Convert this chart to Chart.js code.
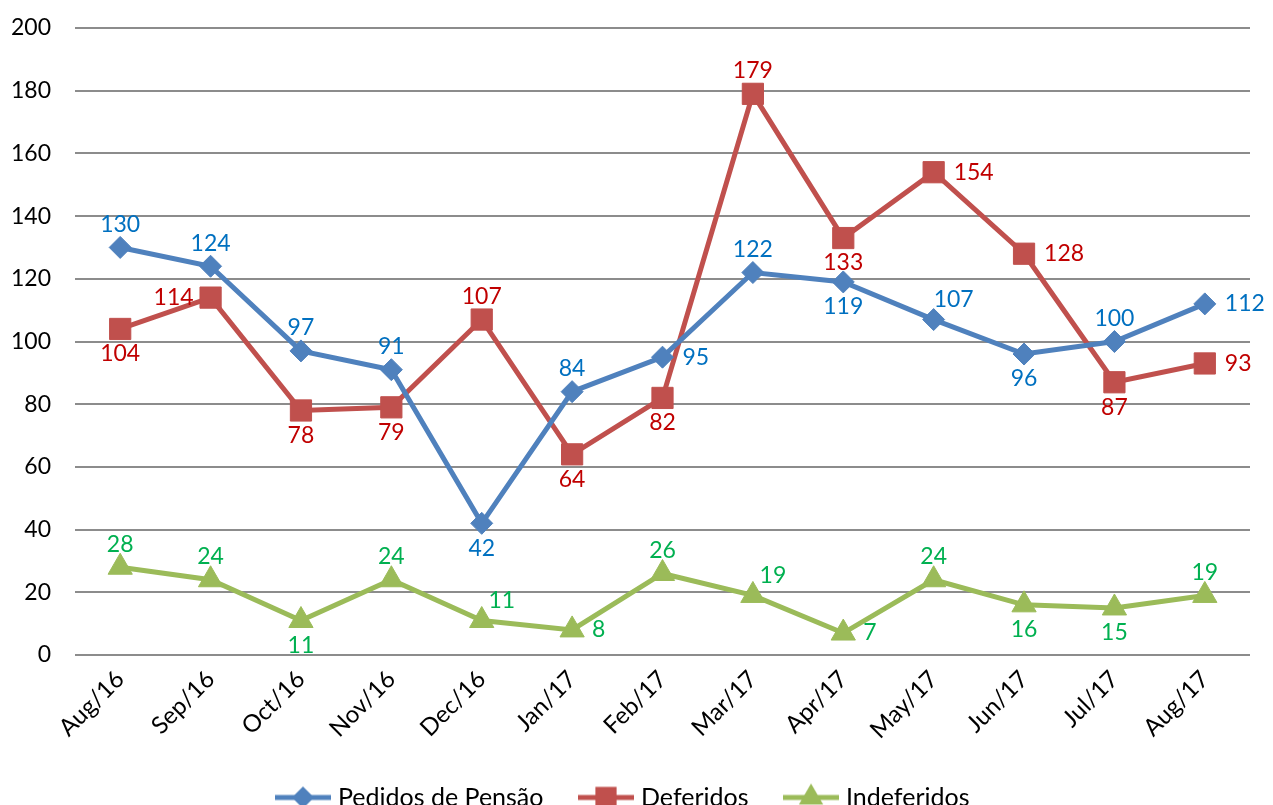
<!DOCTYPE html>
<html>
<head>
<meta charset="utf-8">
<script src="https://cdn.jsdelivr.net/npm/chart.js@4"></script>
<style>
  html, body { margin: 0; padding: 0; background: #fff; }
  #wrap { width: 1273px; height: 805px; }
</style>
</head>
<body>
<div id="wrap"><canvas id="chart" width="1273" height="805"></canvas></div>
<script>
"use strict";

const months = ["Aug/16", "Sep/16", "Oct/16", "Nov/16", "Dec/16", "Jan/17", "Feb/17",
  "Mar/17", "Apr/17", "May/17", "Jun/17", "Jul/17", "Aug/17"];
const pedidos = [130, 124, 97, 91, 42, 84, 95, 122, 119, 107, 96, 100, 112];
const deferidos = [104, 114, 78, 79, 107, 64, 82, 179, 133, 154, 128, 87, 93];
const indeferidos = [28, 24, 11, 24, 11, 8, 26, 19, 7, 24, 16, 15, 19];

// where each value label sits: a = above, b = below, r = right, l = left, ar = above right
const pedidosPos = ["a", "a", "a", "a", "b", "a", "r", "a", "b", "ar", "b", "a", "r"];
const deferidosPos = ["b", "l", "b", "b", "a", "b", "b", "a", "b", "r", "r", "b", "r"];
const indeferidosPos = ["a", "a", "b", "a", "ar", "r", "a", "ar", "r", "a", "b", "b", "a"];

const FONT = "Lato";

function legendIcon(color, style, radius) {
  const c = document.createElement("canvas");
  c.width = 56;
  c.height = 30;
  const g = c.getContext("2d");
  g.strokeStyle = color;
  g.fillStyle = color;
  g.lineWidth = 5;
  g.beginPath();
  g.moveTo(0, 15);
  g.lineTo(56, 15);
  g.stroke();
  g.beginPath();
  if (style === "rectRot") {
    g.moveTo(28 - radius, 15);
    g.lineTo(28, 15 - radius);
    g.lineTo(28 + radius, 15);
    g.lineTo(28, 15 + radius);
  } else if (style === "rect") {
    const s = radius * Math.SQRT1_2;
    g.rect(28 - s, 15 - s, 2 * s, 2 * s);
  } else {
    g.moveTo(28, 15 - radius);
    g.lineTo(28 + radius * 0.866, 15 + radius / 2);
    g.lineTo(28 - radius * 0.866, 15 + radius / 2);
  }
  g.closePath();
  g.fill();
  return c;
}

const valueLabels = {
  id: "valueLabels",
  afterDatasetsDraw(chart) {
    const ctx = chart.ctx;
    ctx.save();
    ctx.font = "23px " + FONT;
    chart.data.datasets.forEach((ds, i) => {
      const meta = chart.getDatasetMeta(i);
      meta.data.forEach((pt, j) => {
        const pos = ds.labelPos[j];
        let x = pt.x, y = pt.y;
        ctx.textBaseline = "middle";
        ctx.textAlign = "center";
        if (pos === "a") {
          y -= 23;
        } else if (pos === "b") {
          y += 25;
        } else if (pos === "r") {
          x += 20;
          ctx.textAlign = "left";
        } else if (pos === "l") {
          x -= 17;
          ctx.textAlign = "right";
        } else if (pos === "ar") {
          x += 20;
          y -= 20;
        }
        ctx.fillStyle = ds.labelColor;
        ctx.fillText(String(ds.data[j]), x, y);
      });
    });
    ctx.restore();
  },
};

const icons = [
  legendIcon("#4F81BD", "rectRot", 11),
  legendIcon("#C0504D", "rect", 15),
  legendIcon("#9BBB59", "triangle", 14),
];

new Chart(document.getElementById("chart"), {
  type: "line",
  data: {
    labels: months,
    datasets: [
      {
        label: "Pedidos de Pensão",
        data: pedidos,
        labelPos: pedidosPos,
        labelColor: "#0070C0",
        borderColor: "#4F81BD",
        backgroundColor: "#4F81BD",
        borderWidth: 5,
        pointStyle: "rectRot",
        pointRadius: 11,
        pointBorderWidth: 1,
      },
      {
        label: "Deferidos",
        data: deferidos,
        labelPos: deferidosPos,
        labelColor: "#C00000",
        borderColor: "#C0504D",
        backgroundColor: "#C0504D",
        borderWidth: 5,
        pointStyle: "rect",
        pointRadius: 15,
        pointBorderWidth: 1,
      },
      {
        label: "Indeferidos",
        data: indeferidos,
        labelPos: indeferidosPos,
        labelColor: "#00B050",
        borderColor: "#9BBB59",
        backgroundColor: "#9BBB59",
        borderWidth: 5,
        pointStyle: "triangle",
        pointRadius: 14,
        pointBorderWidth: 1,
      },
    ],
  },
  options: {
    responsive: false,
    animation: false,
    layout: {
      padding: { top: 28, right: 23, left: 0, bottom: -15 },
    },
    scales: {
      x: {
        offset: true,
        grid: { display: false },
        border: { display: false },
        ticks: {
          minRotation: 45,
          maxRotation: 45,
          padding: 2,
          color: "#000",
          font: { family: FONT, size: 24 },
        },
        afterFit(scale) {
          scale.height = 90;
        },
      },
      y: {
        min: 0,
        max: 200,
        border: { display: false },
        grid: { color: "#8c8c8c", lineWidth: 2, drawTicks: false },
        ticks: {
          stepSize: 20,
          padding: 24,
          color: "#000",
          font: { family: FONT, size: 23 },
        },
        afterFit(scale) {
          scale.width = 75;
          scale.paddingTop = 14;
          scale.paddingBottom = 14;
        },
      },
    },
    plugins: {
      tooltip: { enabled: false },
      legend: {
        position: "bottom",
        labels: {
          usePointStyle: true,
          pointStyleWidth: 45,
          padding: 40,
          color: "#000",
          font: { family: FONT, size: 25 },
          generateLabels(chart) {
            const items = Chart.defaults.plugins.legend.labels.generateLabels(chart);
            items.forEach((it, i) => {
              it.pointStyle = icons[i];
            });
            return items;
          },
        },
      },
    },
  },
  plugins: [valueLabels],
});
</script>
</body>
</html>
